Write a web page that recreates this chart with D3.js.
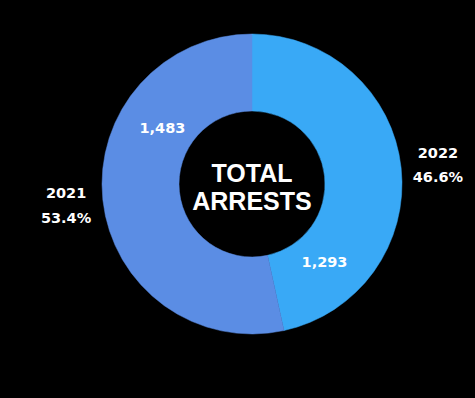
<!DOCTYPE html>
<html>
<head>
<meta charset="utf-8">
<script src="https://cdn.jsdelivr.net/npm/d3@7"></script>
<style>
  body { margin: 0; background: #000; }
</style>
</head>
<body>
<div id="chart"></div>
<script>
// data, in drawing order (clockwise from 12 o'clock)
var years = ["2022", "2021"];
var arrests = [1293, 1483];
var shares = ["46.6%", "53.4%"];
var centerTitle = ["TOTAL", "ARRESTS"];

var width = 475,
    height = 398,
    cx = 252, cy = 184,
    outerR = 150, innerR = 73,
    colors = {"2022": "#39a9f6", "2021": "#5b8de4"};

var svg = d3.select("#chart")
  .append("svg")
  .attr("width", width)
  .attr("height", height)
  .style("background", "#000");

var g = svg.append("g").attr("transform", "translate(" + cx + "," + cy + ")");

var rows = years.map(function (y, i) { return { year: y, value: arrests[i], share: shares[i] }; });

var pie = d3.pie().sort(null).value(function (d) { return d.value; });
var arcs = pie(rows);

var arc = d3.arc().innerRadius(innerR).outerRadius(outerR);

g.selectAll("path")
  .data(arcs)
  .enter()
  .append("path")
  .attr("d", arc)
  .style("fill", function (d) { return colors[d.data.year]; })
  .style("stroke", function (d) { return colors[d.data.year]; })
  .style("stroke-width", 0.5);

// where the counts sit inside each slice (fraction of the slice's sweep)
var valuePos = {"2022": 0.816, "2021": 0.70};

function angleAt(d, f) { return d.startAngle + (d.endAngle - d.startAngle) * f; }
function pointAt(a, r) { return [Math.sin(a) * r, -Math.cos(a) * r]; }

// counts inside the ring
g.selectAll("text.value")
  .data(arcs)
  .enter()
  .append("text")
  .attr("class", "value")
  .attr("transform", function (d) {
    var p = pointAt(angleAt(d, valuePos[d.data.year]), 106);
    return "translate(" + p[0] + "," + p[1] + ")";
  })
  .attr("text-anchor", "middle")
  .attr("dy", "0.36em")
  .style("font-family", "DejaVu Sans")
  .style("font-weight", "bold")
  .style("font-size", "14.5px")
  .style("fill", "#fff")
  .text(function (d) { return d3.format(",")(d.data.value); });

// year + share outside the ring, at the middle of each slice
var outer = g.selectAll("text.share")
  .data(arcs)
  .enter()
  .append("text")
  .attr("class", "share")
  .attr("transform", function (d) {
    var p = pointAt(angleAt(d, 0.5), 187);
    return "translate(" + p[0] + "," + p[1] + ")";
  })
  .attr("text-anchor", "middle")
  .style("font-family", "DejaVu Sans")
  .style("font-weight", "bold")
  .style("font-size", "14.5px")
  .style("fill", "#fff");

outer.append("tspan").attr("x", 0).attr("y", -6).text(function (d) { return d.data.year; });
outer.append("tspan").attr("x", 0).attr("y", 18.5).text(function (d) { return d.data.share; });

// title in the hole
g.append("text")
  .attr("text-anchor", "middle")
  .style("font-family", "Liberation Sans")
  .style("font-weight", "bold")
  .style("font-size", "25px")
  .style("fill", "#fff")
  .selectAll("tspan")
  .data(centerTitle)
  .enter()
  .append("tspan")
  .attr("x", 0)
  .attr("y", function (d, i) { return -2.5 + i * 28.5; })
  .text(function (d) { return d; });
</script>
</body>
</html>
